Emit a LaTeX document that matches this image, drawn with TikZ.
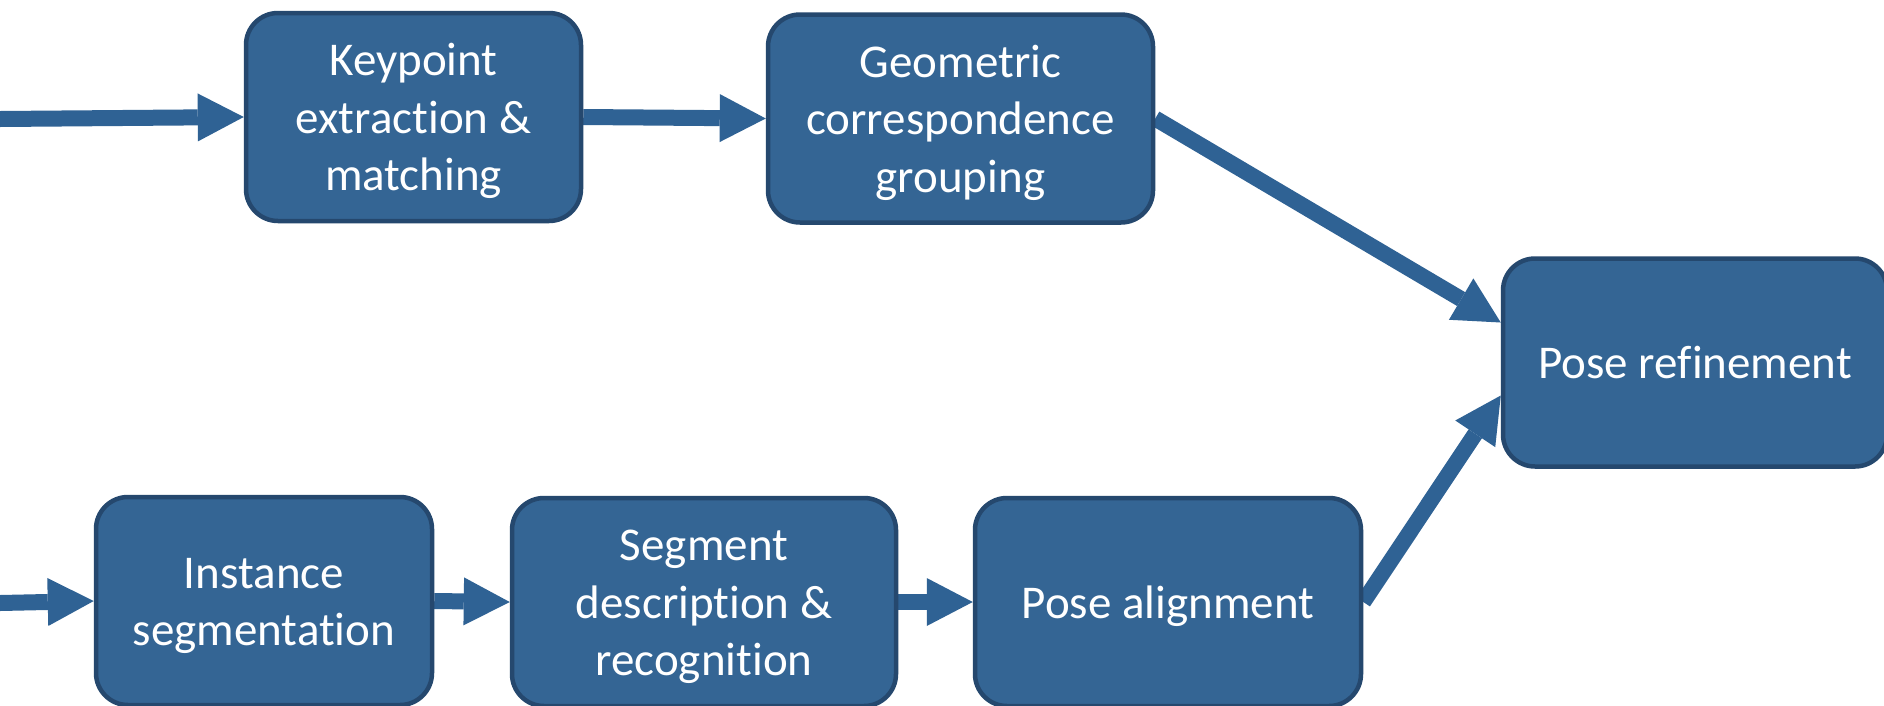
\documentclass[tikz,border=0pt]{standalone}
\usepackage{fontspec}
\setmainfont{Carlito}[Ligatures={NoCommon}]
\usetikzlibrary{arrows.meta}
\definecolor{boxfill}{RGB}{52,101,148}
\definecolor{boxline}{RGB}{37,72,110}
\definecolor{flow}{RGB}{47,98,148}
% uniform line box: 44.75pt above, 12.75pt below the baseline
\newcommand{\boxstrut}{\rule[-12.75pt]{0pt}{57.5pt}}
\pgfdeclarelayer{bg}
\pgfsetlayers{bg,main}

\begin{document}
\begin{tikzpicture}[x=1pt,y=-1pt,
  stage/.style={draw=boxline, fill=boxfill, line width=4.5pt,
    rounded corners=32pt, inner sep=0pt, text=white, align=center,
    minimum height=208pt, font=\fontsize{47}{57.5}\selectfont},
  flowarrow/.style={color=flow, line width=16pt,
    -{Triangle[length=46pt,width=48pt,line width=0pt]}},
]
\useasboundingbox (0,0) rectangle (1884,705);

% processing stages
\node[stage, minimum width=335pt] (kp)   at (413.5,117)  {Keypoint\boxstrut\\extraction \&\boxstrut\\matching\boxstrut};
\node[stage, minimum width=385pt] (geo)  at (960.5,118.5){Geometric\boxstrut\\correspondence\boxstrut\\grouping\boxstrut};
\node[stage, minimum width=384pt] (pr)   at (1695,362.5) {Pose refinement\boxstrut};
\node[stage, minimum width=336pt] (inst) at (264,601)    {Instance\boxstrut\\segmentation\boxstrut};
\node[stage, minimum width=384pt] (seg)  at (704,602)    {Segment\boxstrut\\description \&\boxstrut\\recognition\boxstrut};
\node[stage, minimum width=386pt] (pa)   at (1168,602)   {Pose alignment\boxstrut};

% inputs entering from the left
\coordinate (in1) at (0,119);
\coordinate (in2) at (0,603);

\begin{pgfonlayer}{bg}
  \fill[white] (0,0) rectangle (1884,705);
  \draw[flowarrow] (in1) -- (kp.west);
  \draw[flowarrow] (kp.east) -- (geo.west);
  \draw[flowarrow] (geo.east) -- ([yshift=40pt]pr.west);
  \draw[flowarrow] (in2) -- (inst.west);
  \draw[flowarrow] (inst.east) -- (seg.west);
  \draw[flowarrow] (seg.east) -- (pa.west);
  \draw[flowarrow] (pa.east) -- ([yshift=-33pt]pr.west);
\end{pgfonlayer}
\end{tikzpicture}
\end{document}
